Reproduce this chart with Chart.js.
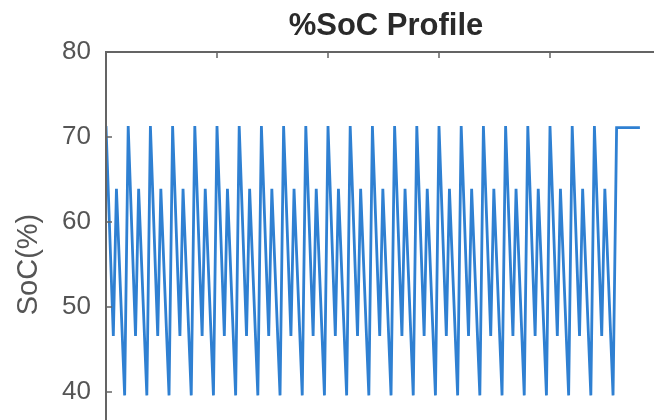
<!DOCTYPE html>
<html>
<head>
<meta charset="utf-8">
<title>%SoC Profile</title>
<script src="https://cdn.jsdelivr.net/npm/chart.js@4.4.1/dist/chart.umd.min.js"></script>
<style>
    html, body { margin: 0; padding: 0; background: #fff; overflow: hidden; }
    #wrap { position: absolute; left: 0; top: 0; width: 776px; height: 510px; }
</style>
</head>
<body>
<div id="wrap"><canvas id="socChart" width="776" height="510"></canvas></div>
<script>
// time (cycles) and state of charge
var time = [
    0, 0.33, 0.47, 0.84,
    1, 1.33, 1.47, 1.84,
    2, 2.33, 2.47, 2.84,
    3, 3.33, 3.47, 3.84,
    4, 4.33, 4.47, 4.84,
    5, 5.33, 5.47, 5.84,
    6, 6.33, 6.47, 6.84,
    7, 7.33, 7.47, 7.84,
    8, 8.33, 8.47, 8.84,
    9, 9.33, 9.47, 9.84,
    10, 10.33, 10.47, 10.84,
    11, 11.33, 11.47, 11.84,
    12, 12.33, 12.47, 12.84,
    13, 13.33, 13.47, 13.84,
    14, 14.33, 14.47, 14.84,
    15, 15.33, 15.47, 15.84,
    16, 16.33, 16.47, 16.84,
    17, 17.33, 17.47, 17.84,
    18, 18.33, 18.47, 18.84,
    19, 19.33, 19.47, 19.84,
    20, 20.33, 20.47, 20.84,
    21, 21.33, 21.47, 21.84,
    22, 22.33, 22.47, 22.84,
    23, 24.05
];
var soc = [
    71.3, 46.6, 63.9, 39.6,
    71.3, 46.6, 63.9, 39.6,
    71.3, 46.6, 63.9, 39.6,
    71.3, 46.6, 63.9, 39.6,
    71.3, 46.6, 63.9, 39.6,
    71.3, 46.6, 63.9, 39.6,
    71.3, 46.6, 63.9, 39.6,
    71.3, 46.6, 63.9, 39.6,
    71.3, 46.6, 63.9, 39.6,
    71.3, 46.6, 63.9, 39.6,
    71.3, 46.6, 63.9, 39.6,
    71.3, 46.6, 63.9, 39.6,
    71.3, 46.6, 63.9, 39.6,
    71.3, 46.6, 63.9, 39.6,
    71.3, 46.6, 63.9, 39.6,
    71.3, 46.6, 63.9, 39.6,
    71.3, 46.6, 63.9, 39.6,
    71.3, 46.6, 63.9, 39.6,
    71.3, 46.6, 63.9, 39.6,
    71.3, 46.6, 63.9, 39.6,
    71.3, 46.6, 63.9, 39.6,
    71.3, 46.6, 63.9, 39.6,
    71.3, 46.6, 63.9, 39.6,
    71.1, 71.1
];
var yTicks = [30, 40, 50, 60, 70, 80];
var xTicks = [0, 5, 10, 15, 20, 25];

var axisColor = '#646464';

// matlab style box with ticks pointing inwards
var boxTicks = {
    id: 'boxTicks',
    afterDraw: function (chart) {
        var ctx = chart.ctx;
        var a = chart.chartArea;
        var x = chart.scales.x;
        var y = chart.scales.y;
        ctx.save();
        ctx.strokeStyle = axisColor;
        ctx.lineWidth = 2;
        ctx.strokeRect(a.left, a.top, a.right - a.left, a.bottom - a.top);
        ctx.lineWidth = 1.5;
        ctx.beginPath();
        for (var i = 0; i < y.ticks.length; i++) {
            var py = y.getPixelForValue(y.ticks[i].value);
            ctx.moveTo(a.left, py);
            ctx.lineTo(a.left + 6, py);
            ctx.moveTo(a.right, py);
            ctx.lineTo(a.right - 6, py);
        }
        for (var j = 0; j < x.ticks.length; j++) {
            var px = x.getPixelForValue(x.ticks[j].value);
            ctx.moveTo(px, a.top);
            ctx.lineTo(px, a.top + 6);
            ctx.moveTo(px, a.bottom);
            ctx.lineTo(px, a.bottom - 6);
        }
        ctx.stroke();
        ctx.restore();
    }
};

window.onload = function () {
    var points = [];
    for (var i = 0; i < time.length; i++) {
        points.push({ x: time[i], y: soc[i] });
    }

    var ctx = document.getElementById('socChart').getContext('2d');
    var socChart = new Chart(ctx, {
        type: 'line',
        data: {
            datasets: [{
                label: 'SoC',
                data: points,
                borderColor: '#2f80d2',
                borderWidth: 2.8,
                pointRadius: 0,
                tension: 0,
                fill: false
            }]
        },
        options: {
            responsive: false,
            animation: false,
            layout: { padding: { left: 0, right: 4, top: 0, bottom: 0 } },
            plugins: {
                legend: { display: false },
                tooltip: { enabled: false },
                title: {
                    display: true,
                    text: '%SoC Profile',
                    color: '#2a2a2a',
                    font: { family: 'Liberation Sans', size: 31, weight: 'bold' },
                    padding: { top: 7.4, bottom: 7.4 }
                }
            },
            scales: {
                x: {
                    type: 'linear',
                    min: 0,
                    max: 25,
                    afterBuildTicks: function (scale) {
                        scale.ticks = xTicks.map(function (v) { return { value: v }; });
                    },
                    afterFit: function (scale) { scale.height = 33; },
                    grid: { display: false },
                    border: { display: false },
                    ticks: {
                        color: '#555',
                        font: { family: 'Liberation Sans', size: 26 },
                        padding: 4
                    }
                },
                y: {
                    min: 30,
                    max: 80,
                    afterBuildTicks: function (scale) {
                        scale.ticks = yTicks.map(function (v) { return { value: v }; });
                    },
                    afterFit: function (scale) { scale.width = 106; },
                    grid: { display: false, drawTicks: false },
                    border: { display: false },
                    ticks: {
                        color: '#555',
                        font: { family: 'Liberation Sans', size: 26 },
                        padding: 15
                    },
                    title: {
                        display: true,
                        text: 'SoC(%)',
                        color: '#555',
                        font: { family: 'Liberation Sans', size: 29 },
                        padding: { top: 11.6, bottom: 0 }
                    }
                },
                // empty right axis, keeps the title centred over the plot box
                yRight: {
                    position: 'right',
                    min: 30,
                    max: 80,
                    afterFit: function (scale) { scale.width = 111; },
                    grid: { display: false },
                    border: { display: false },
                    ticks: { display: false }
                }
            }
        },
        plugins: [boxTicks]
    });
};
</script>
</body>
</html>
